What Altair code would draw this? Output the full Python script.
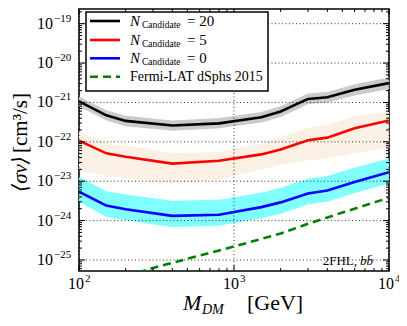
import altair as alt
import pandas as pd

# ---------------- data ----------------
mass = [100, 150, 200, 400, 800, 1500, 2000, 3000, 4000, 6000, 10000]

n20_mid = [1.07e-21, 4.7e-22, 3.4e-22, 2.6e-22, 2.95e-22, 4.2e-22, 5.9e-22, 1.23e-21, 1.35e-21, 2.1e-21, 3.1e-21]
n20_lo = [7.9e-22, 3.5e-22, 2.5e-22, 1.9e-22, 2.2e-22, 3.1e-22, 4.3e-22, 9.0e-22, 1.0e-21, 1.5e-21, 2.2e-21]
n20_hi = [1.42e-21, 6.3e-22, 4.6e-22, 3.5e-22, 4.0e-22, 5.7e-22, 8.0e-22, 1.7e-21, 1.85e-21, 2.9e-21, 4.3e-21]

n5_mid = [1.07e-22, 5.1e-23, 4.2e-23, 2.8e-23, 3.3e-23, 4.8e-23, 6.4e-23, 1.1e-22, 1.28e-22, 2.2e-22, 3.5e-22]
n5_lo = [1.9e-23, 1.4e-23, 1.2e-23, 8.9e-24, 1.07e-23, 2.0e-23, 2.6e-23, 3.4e-23, 3.8e-23, 5.1e-23, 6.9e-23]
n5_hi = [1.9e-22, 9.4e-23, 7.7e-23, 5.1e-23, 5.5e-23, 9.1e-23, 1.35e-22, 2.2e-22, 2.7e-22, 4.4e-22, 5.9e-22]

n0_mid = [5.4e-24, 2.4e-24, 1.95e-24, 1.32e-24, 1.41e-24, 2.2e-24, 2.9e-24, 4.9e-24, 5.8e-24, 9.5e-24, 1.7e-23]
n0_lo = [3.0e-24, 1.26e-24, 1.02e-24, 6.9e-25, 7.4e-25, 1.15e-24, 1.5e-24, 2.6e-24, 3.0e-24, 5.0e-24, 8.7e-24]
n0_hi = [1.29e-23, 5.6e-24, 4.6e-24, 3.2e-24, 3.4e-24, 5.1e-24, 6.8e-24, 1.15e-23, 1.35e-23, 2.2e-23, 3.8e-23]

fermi_mass = [200, 300, 500, 1000, 2000, 3000, 5000, 10000]
fermi_limit = [3.8e-26, 6.3e-26, 1.07e-25, 2.2e-25, 4.7e-25, 8.3e-25, 1.6e-24, 3.8e-24]

x_major = [100, 1000, 10000]
x_exp = ["2", "3", "4"]
y_major = [1e-25, 1e-24, 1e-23, 1e-22, 1e-21, 1e-20, 1e-19]
y_exp = ["\u221225", "\u221224", "\u221223", "\u221222", "\u221221", "\u221220", "\u221219"]

legend_counts = ["20", "5", "0"]
legend_fermi = "Fermi-LAT dSphs 2015"

# ---------------- layout ----------------
W, H = 310, 262
FONT = "'Liberation Serif', 'Times New Roman', 'DejaVu Serif', serif"
Y_LO, Y_HI = 5.25e-26, 2.36e-19
xs = alt.Scale(type="log", domain=[100, 10000], nice=False)
ys = alt.Scale(type="log", domain=[Y_LO, Y_HI], nice=False)

x_minor = [k * 10 ** d for d in (2, 3) for k in range(2, 10)]
y_minor = [k * 10.0 ** d for d in range(-26, -18) for k in range(2, 10)]
y_minor = [v for v in y_minor if Y_LO <= v <= Y_HI]

df = pd.DataFrame({
    "m": mass,
    "n20": n20_mid, "n20lo": n20_lo, "n20hi": n20_hi,
    "n5": n5_mid, "n5lo": n5_lo, "n5hi": n5_hi,
    "n0": n0_mid, "n0lo": n0_lo, "n0hi": n0_hi,
})
fermi_df = pd.DataFrame({"m": fermi_mass, "v": fermi_limit})

X = lambda f: alt.X(f, type="quantitative", scale=xs, axis=None)
Y = lambda f: alt.Y(f, type="quantitative", scale=ys, axis=None)

base = alt.Chart(df)
layers = []

# bands
for lo, hi, col in [("n20lo", "n20hi", "#cbcbcb"), ("n5lo", "n5hi", "#fbf0e4"), ("n0lo", "n0hi", "#80ffff")]:
    layers.append(base.mark_area(color=col, opacity=1, clip=True).encode(x=X("m"), y=Y(lo), y2=alt.Y2(hi)))

# grid (dotted)
ydf = pd.DataFrame({"v": y_major, "e": y_exp})
xdf = pd.DataFrame({"v": x_major, "e": x_exp})
layers.append(alt.Chart(ydf).mark_rule(color="black", strokeWidth=0.8, strokeDash=[1, 2.5]).encode(
    y=Y("v"), x=alt.value(0), x2=alt.value(W)))
layers.append(alt.Chart(xdf).mark_rule(color="black", strokeWidth=0.8, strokeDash=[1, 2.5]).encode(
    x=X("v"), y=alt.value(0), y2=alt.value(H)))

# lines
for f, col in [("n20", "black"), ("n5", "#ff0000"), ("n0", "#0000ff")]:
    layers.append(base.mark_line(color=col, strokeWidth=2.6, clip=True).encode(x=X("m"), y=Y(f)))
layers.append(alt.Chart(fermi_df).mark_line(color="#008000", strokeWidth=2.6, strokeDash=[8, 5], clip=True).encode(
    x=X("m"), y=Y("v")))

# ticks (inward, all four sides)
def yticks(vals, length):
    d = alt.Chart(pd.DataFrame({"v": vals}))
    return [
        d.mark_rule(color="black", strokeWidth=1).encode(y=Y("v"), x=alt.value(0), x2=alt.value(length)),
        d.mark_rule(color="black", strokeWidth=1).encode(y=Y("v"), x=alt.value(W), x2=alt.value(W - length)),
    ]

def xticks(vals, length):
    d = alt.Chart(pd.DataFrame({"v": vals}))
    return [
        d.mark_rule(color="black", strokeWidth=1).encode(x=X("v"), y=alt.value(H), y2=alt.value(H - length)),
        d.mark_rule(color="black", strokeWidth=1).encode(x=X("v"), y=alt.value(0), y2=alt.value(length)),
    ]

layers += yticks(y_major, 6) + yticks(y_minor, 3) + xticks(x_major, 6) + xticks(x_minor, 3)

# tick labels
layers.append(alt.Chart(ydf).mark_text(font=FONT, fontSize=16, align="right", baseline="alphabetic", dy=5).encode(
    y=Y("v"), x=alt.value(-26), text=alt.value("10")))
layers.append(alt.Chart(ydf).mark_text(font=FONT, fontSize=11, align="left", baseline="alphabetic", dy=-2).encode(
    y=Y("v"), x=alt.value(-25), text="e:N"))
layers.append(alt.Chart(xdf).mark_text(font=FONT, fontSize=16, align="right", baseline="alphabetic", dx=5).encode(
    x=X("v"), y=alt.value(280), text=alt.value("10")))
layers.append(alt.Chart(xdf).mark_text(font=FONT, fontSize=11, align="left", baseline="alphabetic", dx=6).encode(
    x=X("v"), y=alt.value(273), text="e:N"))


def txt(t, x, y, size, style="normal", align="left", angle=0):
    return alt.Chart(pd.DataFrame({"t": [t]})).mark_text(
        font=FONT, fontSize=size, fontStyle=style, align=align, baseline="alphabetic", angle=angle, color="black"
    ).encode(x=alt.value(x), y=alt.value(y), text="t:N")

one = pd.DataFrame({"k": [0]})

# axis titles
layers.append(txt("\u27e8\u03c3v\u27e9", -52, 183, 21, style="italic", angle=270))
layers.append(txt("[cm\u00b3/s]", -52, 144, 21, angle=270))
layers.append(txt("M", 104, 301, 22, style="italic"))
layers.append(txt("DM", 123, 305, 14, style="italic"))
layers.append(txt("[GeV]", 168, 301, 22))

# annotation
layers.append(txt("2FHL,", 278, 256, 13, align="right"))
layers.append(txt("bb\u0304", 294, 256, 13, style="italic", align="right"))

# legend box
layers.append(alt.Chart(one).mark_rect(fill="white", stroke="black", strokeWidth=1.5).encode(
    x=alt.value(7), x2=alt.value(189), y=alt.value(3), y2=alt.value(82)))
rows = [12, 31, 49.3, 67.7]
sample_cols = ["black", "#ff0000", "#0000ff"]
for i, (cnt, col) in enumerate(zip(legend_counts, sample_cols)):
    r = rows[i]
    layers.append(alt.Chart(one).mark_rule(color=col, strokeWidth=2.6).encode(
        x=alt.value(11), x2=alt.value(41), y=alt.value(r)))
    layers.append(txt("N", 51, r + 4.5, 15, style="italic"))
    layers.append(txt("Candidate", 63, r + 7, 9.5))
    layers.append(txt("= " + cnt, 108, r + 4.5, 15))
layers.append(alt.Chart(one).mark_rule(color="#008000", strokeWidth=2.6, strokeDash=[8, 5]).encode(
    x=alt.value(11), x2=alt.value(41), y=alt.value(rows[3])))
layers.append(txt(legend_fermi, 51, rows[3] + 4.5, 14))

chart = alt.layer(*layers).properties(
    width=W, height=H,
    autosize=alt.AutoSizeParams(type="none"),
    padding={"left": 71, "top": 1, "right": 10, "bottom": 47},
).configure_view(stroke="black", strokeWidth=1.5)

chart.save("out.html", embed_options={"renderer": "svg", "actions": False})
